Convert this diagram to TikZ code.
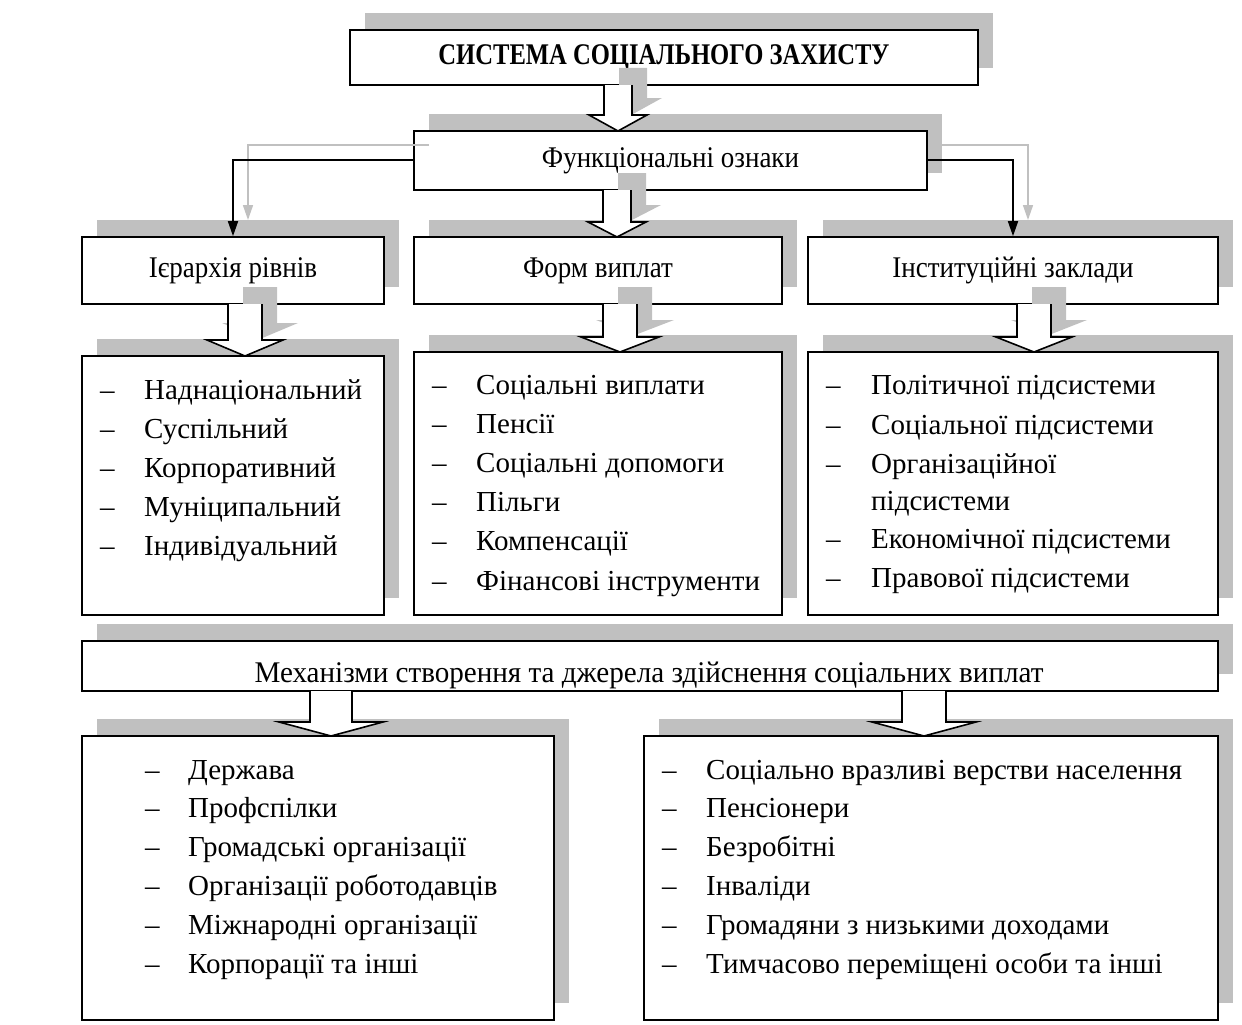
\documentclass[tikz,border=0pt]{standalone}
\usepackage{fontspec}
\setmainfont{Liberation Serif}
\newfontfamily\condfont[FakeStretch=0.9]{Liberation Serif}
\newfontfamily\mechfont[FakeStretch=0.97]{Liberation Serif}
\newfontfamily\titlefont[FakeStretch=0.82]{Liberation Serif}
\usetikzlibrary{arrows.meta,shadows}
\definecolor{shadowgray}{RGB}{192,192,192}
\tikzset{
  box/.style={draw=black, line width=1.6pt, fill=white, inner sep=0pt, anchor=center,
    drop shadow={shadow xshift=15pt, shadow yshift=17pt, fill=shadowgray, opacity=1}},
  head/.style={font=\condfont\fontsize{30}{33}\selectfont},
  item/.style={anchor=base west, inner sep=0pt, font=\fontsize{29}{32}\selectfont},
  conn/.style={line width=1.6pt, -{Triangle[length=15pt,width=10pt]}},
  connshade/.style={line width=1.6pt, draw=shadowgray, -{Triangle[length=15pt,width=10pt]}},
  barrow/.style={draw=black, line width=1.6pt, fill=white, line join=miter},
  arrshade/.style={fill=shadowgray, draw=none}
}
% block arrow: #2 x centre, #3 y top, #4 y head start, #5 y tip, #6 shaft half, #7 head half
\newcommand{\blockarr}[7][barrow]{%
  \path[#1] (#2-#6,#3) -- (#2-#6,#4) -- (#2-#7,#4) -- (#2,#5) -- (#2+#7,#4) -- (#2+#6,#4) -- (#2+#6,#3);}
\newcommand{\blockshade}[6]{%
  \path[arrshade] (#1-#5+15,#2-17) -- (#1-#5+15,#3-17) -- (#1-#6+15,#3-17) -- (#1+15,#4-17) -- (#1+#6+15,#3-17) -- (#1+#5+15,#3-17) -- (#1+#5+15,#2-17) -- cycle;}
\begin{document}
\begin{tikzpicture}[x=1pt,y=-1pt]
\useasboundingbox (0,0) rectangle (1242,1025);
% boxes
\node[box, minimum width=628pt, minimum height=55pt] (top) at (664,57.5)
  {\titlefont\bfseries\fontsize{30}{33}\selectfont СИСТЕМА СОЦІАЛЬНОГО ЗАХИСТУ};
\node[box, minimum width=513pt, minimum height=59pt, head] (func) at (670.5,160.5) {Функціональні ознаки};
\node[box, minimum width=302pt, minimum height=67pt, head] (h1) at (233,270.5) {Ієрархія рівнів};
\node[box, minimum width=368pt, minimum height=67pt, head] (h2) at (598,270.5) {Форм виплат};
\node[box, minimum width=410pt, minimum height=67pt, head] (h3) at (1013,270.5) {Інституційні заклади};
\node[box, minimum width=302pt, minimum height=259pt] (l1) at (233,485.5) {};
\node[box, minimum width=368pt, minimum height=263pt] (l2) at (598,483.5) {};
\node[box, minimum width=410pt, minimum height=263pt] (l3) at (1013,483.5) {};
\node[box, minimum width=1136pt, minimum height=50pt] (mech) at (650,666) {};
\node[anchor=base, inner sep=0pt, font=\mechfont\fontsize{30}{33}\selectfont] (mecht) at (649,682)
  {Механізми створення та джерела здійснення соціальних виплат};
\node[box, minimum width=472pt, minimum height=284pt] (b1) at (318,878) {};
\node[box, minimum width=574pt, minimum height=284pt] (b2) at (931,878) {};
% connector shadows
\draw[connshade] (429,145) -- (248,145) -- (248,220);
\draw[connshade] (942,145) -- (1028,145) -- (1028,220);
% block arrow shadows
\blockshade{618}{85}{115}{131}{14}{29}
\blockshade{617}{190}{222}{237}{14}{29}
\blockshade{245}{304}{340}{356}{17}{38}
\blockshade{620}{304}{337}{352}{17}{39}
\blockshade{1034}{304}{337}{352}{17}{38}
% connectors
\draw[conn] (func.west |- 0,160) -| (h1.north);
\draw[conn] (func.east |- 0,160) -| (h3.north);
% block arrows
\blockarr{618}{85}{115}{131}{14}{29}
\blockarr{617}{190}{222}{237}{14}{29}
\blockarr{245}{304}{340}{356}{17}{38}
\blockarr{620}{304}{337}{352}{17}{39}
\blockarr{1034}{304}{337}{352}{17}{38}
\blockarr{331}{691}{722}{736}{21}{52}
\blockarr{924}{691}{722}{736}{22}{52}
% list 1
\foreach \t [count=\i] in {Наднаціональний, Суспільний, Корпоративний, Муніципальний, Індивідуальний}{
  \node[item] (la\i) at (100,{389+10+(\i-1)*39}) {–};
  \node[item] (lat\i) at (144,{389+10+(\i-1)*39}) {\t};
}
% list 2
\foreach \t [count=\i] in {Соціальні виплати, Пенсії, Соціальні допомоги, Пільги, Компенсації, Фінансові інструменти}{
  \node[item] (lb\i) at (432,{384+10+(\i-1)*39.2}) {–};
  \node[item] (lbt\i) at (476,{384+10+(\i-1)*39.2}) {\t};
}
% list 3
\node[item] (lc1) at (826,394) {–};
\node[item] (lct1) at (871,394) {Політичної підсистеми};
\node[item] (lc2) at (826,434) {–};
\node[item] (lct2) at (871,434) {Соціальної підсистеми};
\node[item] (lc3) at (826,473) {–};
\node[item] (lct3) at (871,473) {Організаційної};
\node[item] (lct3b) at (871,510) {підсистеми};
\node[item] (lc4) at (826,548) {–};
\node[item] (lct4) at (871,548) {Економічної підсистеми};
\node[item] (lc5) at (826,587) {–};
\node[item] (lct5) at (871,587) {Правової підсистеми};
% bottom lists
\foreach \t [count=\i] in {Держава, Профспілки, Громадські організації, Організації роботодавців, Міжнародні організації, Корпорації та інші}{
  \node[item] (ld\i) at (145,{769+10+(\i-1)*38.8}) {–};
  \node[item] (ldt\i) at (188,{769+10+(\i-1)*38.8}) {\t};
}
\foreach \t [count=\i] in {Соціально вразливі верстви населення, Пенсіонери, Безробітні, Інваліди, Громадяни з низькими доходами, Тимчасово переміщені особи та інші}{
  \node[item] (le\i) at (662,{769+10+(\i-1)*38.8}) {–};
  \node[item] (let\i) at (706,{769+10+(\i-1)*38.8}) {\t};
}
\end{tikzpicture}
\end{document}
